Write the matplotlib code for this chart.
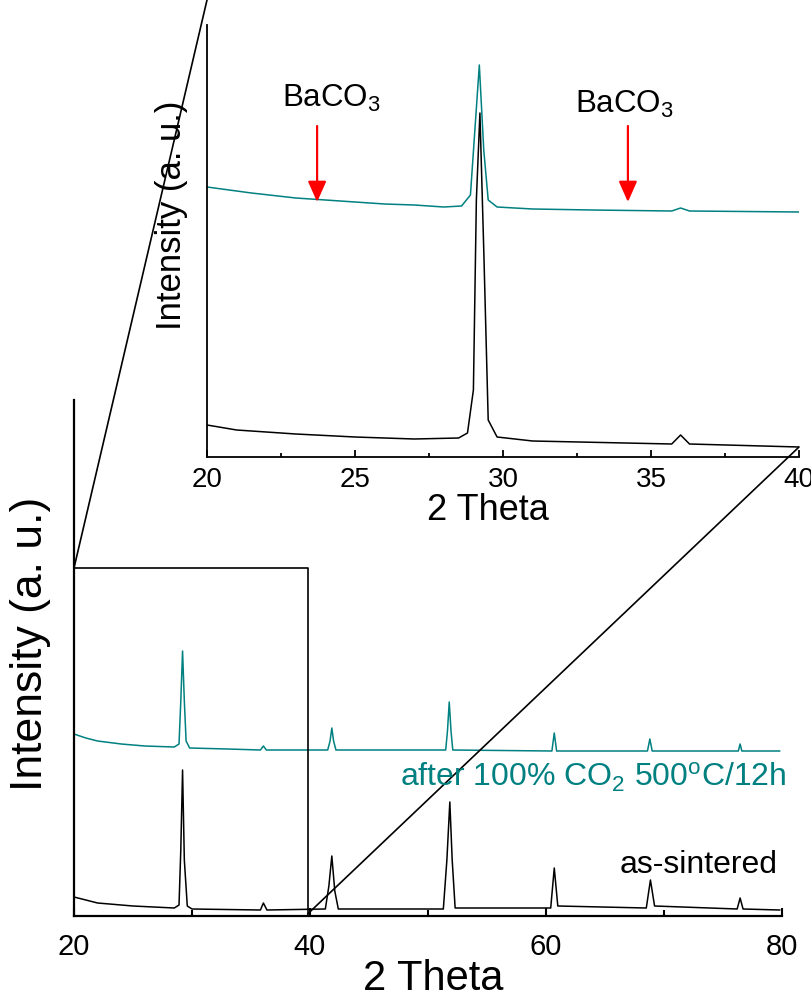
import matplotlib
matplotlib.use("Agg")
import matplotlib.pyplot as plt
from matplotlib.patches import ConnectionPatch

plt.rcParams["font.family"] = ["Liberation Sans", "DejaVu Sans"]
plt.rcParams["mathtext.fontset"] = "custom"
plt.rcParams["mathtext.rm"] = "Liberation Sans"
plt.rcParams["mathtext.it"] = "Liberation Sans:italic"

TEAL = "#008080"

# full scan, 20-80 deg (intensity in arbitrary units)
main_black_x = [20, 21, 22, 25, 28.5, 28.9, 29.05, 29.2, 29.35, 29.6, 30, 35.8, 36.05, 36.35,
                41.3, 41.6, 41.85, 42.1, 42.4, 51.3, 51.6, 51.85, 52.05, 52.3,
                60.4, 60.7, 61.0, 68.5, 68.85, 69.2, 76.2, 76.45, 76.7, 79.8]
main_black_y = [19, 16, 13, 10, 8, 11, 66, 146, 56, 10, 7, 6, 13, 6,
                7, 30, 60, 25, 7, 7, 56, 114, 56, 8,
                8, 48, 10, 8, 36, 10, 7, 18, 7, 6]

main_teal_x = [20, 21, 22, 24, 26, 28.5, 28.9, 29.05, 29.2, 29.35, 29.5, 29.8, 33, 35.8, 36.05, 36.3,
               41.5, 41.7, 41.85, 42.0, 42.2, 51.5, 51.65, 51.8, 51.95, 52.1,
               60.5, 60.7, 60.9, 68.6, 68.8, 69.0, 76.3, 76.45, 76.6, 79.8]
main_teal_y = [182, 178, 175, 172, 170, 169, 172, 215, 265, 215, 175, 168, 167, 166, 170, 166,
               166, 175, 188, 175, 166, 166, 185, 214, 185, 166,
               165, 183, 165, 165, 177, 165, 165, 172, 165, 165]

# zoomed scan, 20-40 deg
inset_black_x = [20, 21, 22, 23, 25, 27, 28.5, 28.8, 29.0, 29.1, 29.22, 29.35, 29.5, 29.8,
                 31, 35.7, 36.0, 36.3, 40]
inset_black_y = [32, 27, 25, 23, 20, 18, 19, 24, 67, 257, 344, 207, 37, 20,
                 16, 13, 22, 13, 10]

inset_teal_x = [20, 21.5, 23, 24, 25, 26, 27, 28, 28.6, 28.9, 29.05, 29.2, 29.35, 29.5, 29.8,
                31, 33, 35.7, 36.0, 36.3, 40]
inset_teal_y = [270, 264, 259, 257, 255, 253, 252, 250, 251, 262, 327, 392, 307, 257, 250,
                248, 247, 246, 249, 246, 245]

baco3_x = [23.72, 34.22]
baco3_label_x = [24.19, 34.09]
baco3_label_y = [350, 344]

fig = plt.figure(figsize=(8.11, 9.98), dpi=100)
W, H = 811, 998


def px_axes(x0, y0, x1, y1):
    # pixel box (top-left origin) -> figure axes
    return fig.add_axes([x0 / W, 1 - y1 / H, (x1 - x0) / W, (y1 - y0) / H])


# ---- main plot ----
ax = px_axes(74, 400, 782, 916)
ax.plot(main_black_x, main_black_y, color="black", lw=1.1)
ax.plot(main_teal_x, main_teal_y, color=TEAL, lw=1.1)
ax.set_xlim(20, 80)
ax.set_ylim(0, 516)
ax.set_xticks([20, 40, 60, 80])
ax.set_xticks([30, 50, 70], minor=True)
ax.set_yticks([])
for s in ["top", "right"]:
    ax.spines[s].set_visible(False)
for s in ["left", "bottom"]:
    ax.spines[s].set_linewidth(1.6)
ax.tick_params(axis="x", which="major", direction="in", length=6, width=1.5, labelsize=21, pad=12)
ax.tick_params(axis="x", which="minor", direction="in", length=4, width=1.5)

fig.text(433 / W, 1 - 990 / H, "2 Theta", fontsize=30, ha="center", va="baseline")
fig.text(31 / W, 1 - 644 / H, "Intensity (a. u.)", rotation=90, fontsize=32,
         ha="center", va="center")
fig.text(786 / W, 1 - 787 / H, r"after 100% CO$_2$ 500$^\mathrm{o}$C/12h", color=TEAL,
         fontsize=23, ha="right", va="baseline")
fig.text(778 / W, 1 - 873 / H, "as-sintered", fontsize=23, ha="right", va="baseline")

# zoom box
box_x0, box_x1, box_y0, box_y1 = 20, 39.8, 2, 348
ax.plot([box_x0, box_x1, box_x1], [box_y1, box_y1, box_y0], color="black", lw=1.2)

# ---- inset ----
axi = px_axes(207, 0, 799, 457)
axi.plot(inset_black_x, inset_black_y, color="black", lw=1.1)
axi.plot(inset_teal_x, inset_teal_y, color=TEAL, lw=1.1)
axi.set_xlim(20, 40)
axi.set_ylim(0, 457)
axi.set_xticks([20, 25, 30, 35, 40])
axi.set_xticks([22.5, 27.5, 32.5, 37.5], minor=True)
axi.set_yticks([])
axi.patch.set_alpha(0)
for s in ["top", "right"]:
    axi.spines[s].set_visible(False)
axi.spines["left"].set_bounds(0, 432)
for s in ["left", "bottom"]:
    axi.spines[s].set_linewidth(1.3)
axi.tick_params(axis="x", which="major", direction="in", length=5, width=1.3, labelsize=20, pad=7)
axi.tick_params(axis="x", which="minor", direction="in", length=3, width=1.3)
fig.text(488 / W, 1 - 520 / H, "2 Theta", fontsize=26, ha="center", va="baseline")
fig.text(172 / W, 1 - 215 / H, "Intensity (a. u.)", rotation=90, fontsize=25,
         ha="center", va="center")

for xb, xl, yl in zip(baco3_x, baco3_label_x, baco3_label_y):
    axi.annotate("", xy=(xb, 255), xytext=(xb, 331),
                 arrowprops=dict(arrowstyle="-|>,head_length=0.45,head_width=0.2",
                                 color="red", lw=1.6, mutation_scale=28,
                                 shrinkA=0, shrinkB=0))
    axi.text(xl, yl, r"BaCO$_3$", fontsize=22.5, ha="center", va="baseline")

# connector lines between box and inset
for (xa, ya), (xb, yb) in [((box_x0, box_y1), (20, 457)), ((box_x1, box_y0), (40, 10))]:
    con = ConnectionPatch(xyA=(xa, ya), coordsA=ax.transData,
                          xyB=(xb, yb), coordsB=axi.transData,
                          color="black", lw=1.2)
    fig.add_artist(con)

fig.savefig("out.png", dpi=100)
